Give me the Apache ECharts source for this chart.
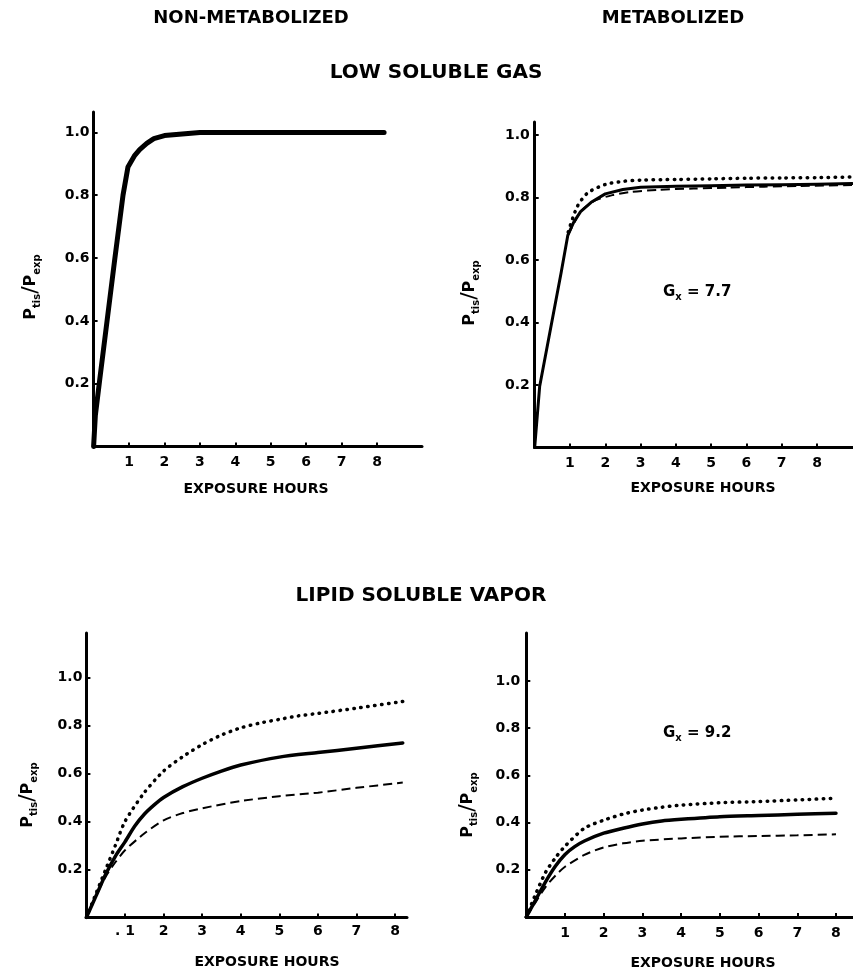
<!DOCTYPE html>
<html>
<head>
<meta charset="utf-8">
<script src="https://cdn.jsdelivr.net/npm/echarts@6/dist/echarts.min.js"></script>
<style>
html,body{margin:0;padding:0;background:#fff;}
#chart{width:853px;height:973px;}
</style>
</head>
<body>
<div id="chart"></div>
<script>
// ---------- tick labels ----------
const xTicks = [1, 2, 3, 4, 5, 6, 7, 8];
const yTicks = [0.2, 0.4, 0.6, 0.8, 1.0];

// ---------- Panel A: low soluble gas, non-metabolized ----------
const aHours = [0, 0.05, 0.17, 0.59, 0.83, 0.97, 1.15, 1.3, 1.5, 1.7, 2.0, 2.5, 3, 4, 5, 6, 7, 8.2];
const aSolid = [0, 0.1, 0.21, 0.59, 0.8, 0.89, 0.925, 0.945, 0.965, 0.98, 0.99, 0.995, 1.0, 1.0, 1.0, 1.0, 1.0, 1.0];

// ---------- Panel B: low soluble gas, metabolized (Gx = 7.7) ----------
const bSolidHours = [0, 0.14, 0.75, 0.94, 1.1, 1.3, 1.6, 2.0, 2.5, 3, 4, 5, 6, 7, 8, 9.0];
const bSolid = [0, 0.195, 0.56, 0.68, 0.72, 0.755, 0.785, 0.812, 0.826, 0.833, 0.836, 0.838, 0.84, 0.841, 0.843, 0.845];
const bDotHours = [0.95, 1.2, 1.5, 2, 2.5, 3, 4, 5, 6, 7, 8, 9.0];
const bDotted = [0.69, 0.77, 0.815, 0.842, 0.852, 0.856, 0.858, 0.86, 0.862, 0.863, 0.864, 0.866];
const bDashHours = [0.95, 1.3, 1.7, 2.2, 2.7, 3.5, 4.5, 5.5, 6.5, 7.5, 9.0];
const bDashed = [0.68, 0.755, 0.79, 0.808, 0.818, 0.825, 0.829, 0.832, 0.835, 0.837, 0.84];

// ---------- Panel C: lipid soluble vapor, non-metabolized ----------
const cDotHours = [0, 0.25, 0.5, 0.75, 1, 1.5, 2, 2.5, 3, 3.5, 4, 4.5, 5, 5.5, 6, 7, 8.2];
const cDotted = [0, 0.1, 0.2, 0.3, 0.4, 0.52, 0.61, 0.67, 0.72, 0.76, 0.79, 0.81, 0.825, 0.84, 0.85, 0.872, 0.9];
const cSolidHours = [0, 0.25, 0.5, 0.75, 1, 1.25, 1.5, 1.75, 2, 2.5, 3, 3.5, 4, 5, 6, 7, 8.2];
const cSolid = [0, 0.09, 0.18, 0.255, 0.315, 0.38, 0.43, 0.468, 0.5, 0.545, 0.58, 0.61, 0.635, 0.668, 0.687, 0.705, 0.727];
const cDashHours = [0, 0.25, 0.5, 0.75, 1, 1.5, 2, 2.5, 3, 4, 5, 6, 7, 8.2];
const cDashed = [0, 0.09, 0.17, 0.23, 0.28, 0.35, 0.405, 0.435, 0.455, 0.485, 0.505, 0.52, 0.54, 0.562];

// ---------- Panel D: lipid soluble vapor, metabolized (Gx = 9.2) ----------
const dDotHours = [0, 0.25, 0.5, 0.75, 1, 1.5, 2, 2.5, 3, 3.5, 4, 5, 6, 7, 8];
const dDotted = [0, 0.1, 0.19, 0.25, 0.3, 0.376, 0.41, 0.436, 0.453, 0.465, 0.474, 0.484, 0.489, 0.496, 0.503];
const dSolidHours = [0, 0.25, 0.5, 0.75, 1, 1.25, 1.5, 2, 2.5, 3, 3.5, 4, 5, 6, 7, 8];
const dSolid = [0, 0.075, 0.15, 0.215, 0.265, 0.298, 0.322, 0.355, 0.376, 0.394, 0.407, 0.414, 0.425, 0.43, 0.435, 0.44];
const dDashHours = [0, 0.25, 0.5, 0.75, 1, 1.5, 2, 2.5, 3, 4, 5, 6, 7, 8];
const dDashed = [0, 0.065, 0.128, 0.175, 0.213, 0.263, 0.295, 0.312, 0.323, 0.333, 0.34, 0.343, 0.346, 0.35];

// ---------- text ----------
const colTitles = ['NON-METABOLIZED', 'METABOLIZED'];
const rowTitles = ['LOW SOLUBLE GAS', 'LIPID SOLUBLE VAPOR'];
const xName = 'EXPOSURE HOURS';
const gxLabels = ['7.7', '9.2'];

const FONT = '"DejaVu Sans", sans-serif';
const zip = (xs, ys) => xs.map((x, i) => [x, ys[i]]);

const grids = [
  {left: 93.6, top: 112, width: 328.4, height: 334.5},
  {left: 534.7, top: 122, width: 318.3, height: 325.5},
  {left: 86.4, top: 633, width: 320.6, height: 284.5},
  {left: 526.3, top: 633, width: 326.7, height: 284}
];
const xMax = [9.27, 9.02, 8.31, 8.44];
const yMax = [1.065, 1.042, 1.185, 1.203];
const xMargins = [9, 9, 7, 9];
const yMargins = [4, 5, 4, 6];

const xAxes = grids.map((g, i) => ({
  gridIndex: i, type: 'value', min: 0, max: xMax[i],
  axisLine: {show: true, onZero: false, lineStyle: {color: '#000', width: 3}},
  axisTick: {show: true, inside: true, length: 4, customValues: xTicks, lineStyle: {color: '#000', width: 2}},
  axisLabel: {
    customValues: xTicks, margin: xMargins[i], color: '#000', fontSize: 14, fontWeight: 'bold', fontFamily: FONT,
    formatter: v => (i === 2 && v === 1) ? '. 1' : String(v)
  },
  splitLine: {show: false}
}));
const yAxes = grids.map((g, i) => ({
  gridIndex: i, type: 'value', min: 0, max: yMax[i],
  axisLine: {show: true, onZero: false, lineStyle: {color: '#000', width: 3}},
  axisTick: {show: true, inside: true, length: 4, customValues: yTicks, lineStyle: {color: '#000', width: 2}},
  axisLabel: {
    customValues: yTicks, margin: yMargins[i], color: '#000', fontSize: 14, fontWeight: 'bold', fontFamily: FONT,
    formatter: v => v.toFixed(1)
  },
  splitLine: {show: false}
}));

function line(idx, data, kind, width, smooth) {
  const ls = {color: '#000', width: width};
  if (kind === 'dotted') { ls.type = [0.5, 6.5]; ls.cap = 'round'; }
  else if (kind === 'dashed') { ls.type = [9, 5]; }
  else { ls.type = 'solid'; ls.cap = 'round'; ls.join = 'round'; }
  const s = {type: 'line', xAxisIndex: idx, yAxisIndex: idx, data: data, symbol: 'none', showSymbol: false, lineStyle: ls, silent: true};
  if (smooth) { s.smooth = smooth; }
  return s;
}

const series = [
  line(0, zip(aHours, aSolid), 'solid', 5),
  line(1, zip(bDotHours, bDotted), 'dotted', 3.5, 0.25),
  line(1, zip(bDashHours, bDashed), 'dashed', 2, 0.25),
  line(1, zip(bSolidHours, bSolid), 'solid', 3),
  line(2, zip(cDotHours, cDotted), 'dotted', 3.5, 0.25),
  line(2, zip(cDashHours, cDashed), 'dashed', 2, 0.25),
  line(2, zip(cSolidHours, cSolid), 'solid', 3.5, 0.25),
  line(3, zip(dDotHours, dDotted), 'dotted', 3.5, 0.25),
  line(3, zip(dDashHours, dDashed), 'dashed', 2, 0.25),
  line(3, zip(dSolidHours, dSolid), 'solid', 3.5, 0.25)
];

function txt(x, y, text, size) {
  return {type: 'text', x: x, y: y, silent: true,
    style: {text: text, fill: '#000', font: 'bold ' + size + 'px ' + FONT, align: 'center', verticalAlign: 'middle'}};
}
const richName = {
  p: {fontSize: 16, fontWeight: 'bold', fontFamily: FONT, lineHeight: 22, fill: '#000', color: '#000'},
  s: {fontSize: 10, fontWeight: 'bold', fontFamily: FONT, lineHeight: 10, verticalAlign: 'bottom', fill: '#000', color: '#000'},
  sl: {fontSize: 22, fontFamily: FONT, lineHeight: 22, fill: '#000', color: '#000'}
};
function yName(x, y) {
  return {type: 'text', x: x, y: y, rotation: Math.PI / 2, silent: true,
    style: {text: '{p|P}{s|tis}{sl|/}{p|P}{s|exp}', rich: richName, align: 'center', verticalAlign: 'middle', fill: '#000'}};
}
const richG = {
  g: {fontSize: 15, fontWeight: 'bold', fontFamily: FONT, lineHeight: 20, fill: '#000', color: '#000'},
  x: {fontSize: 10, fontWeight: 'bold', fontFamily: FONT, lineHeight: 10, verticalAlign: 'bottom', fill: '#000', color: '#000'}
};
function gx(x, y, val) {
  return {type: 'text', x: x, y: y, silent: true,
    style: {text: '{g|G}{x|x}{g| = ' + val + '}', rich: richG, align: 'left', verticalAlign: 'middle', fill: '#000'}};
}

const graphic = [
  txt(251, 18, colTitles[0], 18),
  txt(673, 18, colTitles[1], 18),
  txt(436, 73, rowTitles[0], 20),
  txt(421, 596, rowTitles[1], 20),
  txt(256, 489, xName, 14),
  txt(703, 488, xName, 14),
  txt(267, 962, xName, 14),
  txt(703, 963, xName, 14),
  yName(31, 287),
  yName(470, 293),
  yName(28, 795),
  yName(468, 805),
  gx(663, 292, gxLabels[0]),
  gx(663, 733, gxLabels[1])
];

const chart = echarts.init(document.getElementById('chart'), null, {renderer: 'canvas'});
chart.setOption({
  backgroundColor: '#fff',
  animation: false,
  grid: grids.map(g => Object.assign({containLabel: false, outerBoundsMode: 'none'}, g)),
  xAxis: xAxes,
  yAxis: yAxes,
  series: series,
  graphic: graphic
});
</script>
</body>
</html>
